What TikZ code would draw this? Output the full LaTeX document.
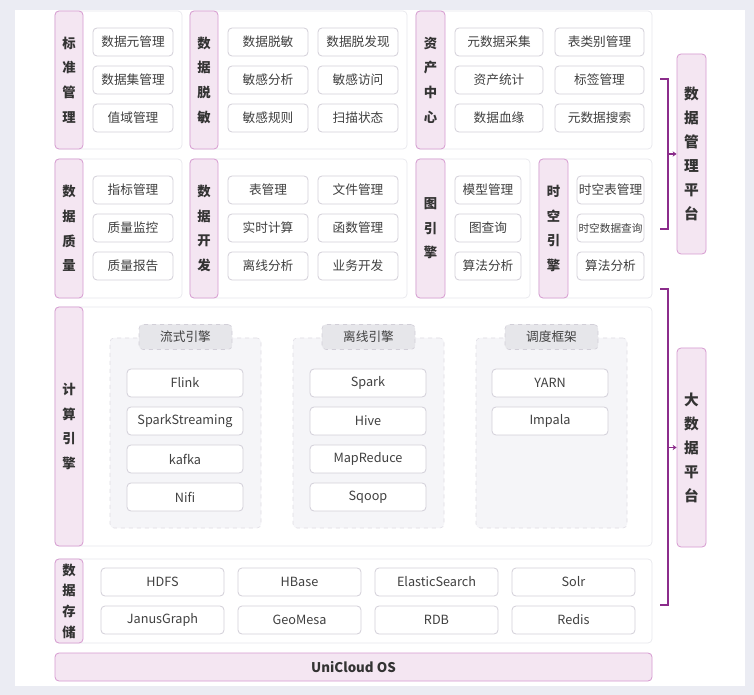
\documentclass[tikz,border=0pt]{standalone}
\usepackage{fontspec}
\setmainfont{Noto Sans CJK SC}
\usepackage{tikz}
\usetikzlibrary{arrows.meta}
\usepackage{xcolor}
\definecolor{bgcol}{HTML}{EBECF3}
\definecolor{pinkfill}{HTML}{F4E6F2}
\definecolor{pinkline}{HTML}{D69AD0}
\definecolor{boxline}{HTML}{D2CFD8}
\definecolor{cardline}{HTML}{E7E7EC}
\definecolor{groupfill}{HTML}{F5F5F8}
\definecolor{tagfill}{HTML}{E6E6EA}
\definecolor{brackcol}{HTML}{8B2C8B}
\def\u{0.75pt}
\tikzset{
  card/.style={draw=cardline, fill=white, rounded corners=3pt, line width=0.5pt},
  strip/.style={draw=pinkline, fill=pinkfill, rounded corners=3pt, line width=0.6pt,
    align=center, font=\fontsize{10}{18.5}\selectfont\bfseries, text=black!80},
  box/.style={draw=boxline, fill=white, rounded corners=3pt, line width=0.6pt,
    minimum height=28*\u, inner sep=0pt, font=\fontsize{9.5}{11}\selectfont, text=black!75},
  group/.style={draw=boxline!70, dashed, fill=groupfill, rounded corners=3pt, line width=0.4pt},
  tag/.style={draw=boxline, dashed, fill=tagfill, rounded corners=3pt, minimum width=93*\u,
    minimum height=25*\u, font=\fontsize{9.5}{11}\selectfont, text=black!75},
  bracket/.style={draw=brackcol, line width=1pt},
}
\begin{document}
\begin{tikzpicture}[x=0.75pt, y=-0.75pt]
    \useasboundingbox (0,0) rectangle (754,695);
    \fill[bgcol] (0,0) rectangle (754,695);
    \fill[white] (15,10) rectangle (745,686);

    % cards
    \node[card, minimum width=127*\u, minimum height=138*\u] (c1) at (118.5,80) {};
    \node[card, minimum width=217*\u, minimum height=138*\u] (c2) at (298.5,80) {};
    \node[card, minimum width=236*\u, minimum height=138*\u] (c3) at (534,80) {};
    \node[card, minimum width=127*\u, minimum height=139*\u] (c4) at (118.5,228.5) {};
    \node[card, minimum width=217*\u, minimum height=139*\u] (c5) at (298.5,228.5) {};
    \node[card, minimum width=114*\u, minimum height=139*\u] (c6) at (473,228.5) {};
    \node[card, minimum width=113*\u, minimum height=139*\u] (c7) at (595.5,228.5) {};
    \node[card, minimum width=597*\u, minimum height=239*\u] (c8) at (353.5,426.5) {};
    \node[card, minimum width=597*\u, minimum height=84*\u] (c9) at (353.5,601) {};

    % strips
    \node[strip, minimum width=28*\u, minimum height=138*\u] (s1) at (69,80) {标\\准\\管\\理};
    \node[strip, minimum width=28*\u, minimum height=138*\u] (s2) at (204,80) {数\\据\\脱\\敏};
    \node[strip, minimum width=29*\u, minimum height=138*\u] (s3) at (430.5,80) {资\\产\\中\\心};
    \node[strip, minimum width=28*\u, minimum height=139*\u] (s4) at (69,228.5) {数\\据\\质\\量};
    \node[strip, minimum width=28*\u, minimum height=139*\u] (s5) at (204,228.5) {数\\据\\开\\发};
    \node[strip, minimum width=29*\u, minimum height=139*\u] (s6) at (430.5,228.5) {图\\引\\擎};
    \node[strip, minimum width=29*\u, minimum height=139*\u] (s7) at (553.5,228.5) {时\\空\\引\\擎};
    \node[strip, minimum width=28*\u, minimum height=239*\u] (s8) at (69,426.5) {计\\算\\引\\擎};
    \node[strip, minimum width=28*\u, minimum height=84*\u, font=\fontsize{10}{15.5}\selectfont\bfseries] (s9) at (69,601) {数\\据\\存\\储};
    \node[strip, minimum width=597*\u, minimum height=28*\u, font=\fontsize{10}{12}\selectfont\bfseries] (os) at (353.5,667) {UniCloud OS};

    % row 1
    \foreach \t [count=\i] in {数据元管理,数据集管理,值域管理}
        \node[box, minimum width=80*\u] (bz\i) at (133,{4+38*\i}) {\t};
    \foreach \t [count=\i] in {数据脱敏,敏感分析,敏感规则}
        \node[box, minimum width=80*\u] (ta\i) at (268,{4+38*\i}) {\t};
    \foreach \t [count=\i] in {数据脱发现,敏感访问,扫描状态}
        \node[box, minimum width=80*\u] (tb\i) at (358,{4+38*\i}) {\t};
    \foreach \t [count=\i] in {元数据采集,资产统计,数据血缘}
        \node[box, minimum width=88*\u] (za\i) at (499,{4+38*\i}) {\t};
    \foreach \t [count=\i] in {表类别管理,标签管理,元数据搜索}
        \node[box, minimum width=89*\u] (zb\i) at (599.5,{4+38*\i}) {\t};

    % row 2
    \foreach \t [count=\i] in {指标管理,质量监控,质量报告}
        \node[box, minimum width=80*\u] (zl\i) at (133,{152+38*\i}) {\t};
    \foreach \t [count=\i] in {表管理,实时计算,离线分析}
        \node[box, minimum width=80*\u] (ka\i) at (268,{152+38*\i}) {\t};
    \foreach \t [count=\i] in {文件管理,函数管理,业务开发}
        \node[box, minimum width=80*\u] (kb\i) at (358,{152+38*\i}) {\t};
    \foreach \t [count=\i] in {模型管理,图查询,算法分析}
        \node[box, minimum width=66*\u] (ty\i) at (488,{152+38*\i}) {\t};
    \foreach \t [count=\i] in {时空表管理,\fontsize{8}{10}\selectfont 时空数据查询,算法分析}
        \node[box, minimum width=67*\u] (sk\i) at (610.5,{152+38*\i}) {\t};

    % compute engines
    \foreach \t [count=\i] in {流式引擎,离线引擎,调度框架} {
        \node[group, minimum width=151*\u, minimum height=190*\u] (g\i) at ({2.5+183*\i},433) {};
        \node[tag] (h\i) at ({2.5+183*\i},337) {\t};
    }
    \foreach \t [count=\i] in {Flink,SparkStreaming,kafka,Nifi}
        \node[box, minimum width=116*\u] (la\i) at (185,{345+38*\i}) {\t};
    \foreach \t [count=\i] in {Spark,Hive,MapReduce,Sqoop}
        \node[box, minimum width=116*\u] (lb\i) at (368,{345+38*\i}) {\t};
    \foreach \t [count=\i] in {YARN,Impala}
        \node[box, minimum width=116*\u] (lc\i) at (550,{345+38*\i}) {\t};

    % storage
    \foreach \t [count=\i] in {HDFS,HBase,ElasticSearch,Solr}
        \node[box, minimum width=123*\u] (da\i) at ({25.5+137*\i},582) {\t};
    \foreach \t [count=\i] in {JanusGraph,GeoMesa,RDB,Redis}
        \node[box, minimum width=123*\u] (db\i) at ({25.5+137*\i},620) {\t};

    % platforms
    \node[strip, minimum width=29*\u, minimum height=200*\u, font=\fontsize{11}{18}\selectfont\bfseries] (pm) at (691.5,154) {数\\据\\管\\理\\平\\台};
    \node[strip, minimum width=29*\u, minimum height=199*\u, font=\fontsize{11}{18}\selectfont\bfseries] (pb) at (691.5,447.5) {大\\数\\据\\平\\台};

    \coordinate (m1) at (668,154);
    \coordinate (m2) at (668,447.5);
    \draw[bracket] (660,79) -- (668,79) -- (668,229) -- (660,229);
    \draw[bracket] (660,289) -- (668,289) -- (668,605) -- (660,605);
    \draw[bracket, -{Stealth[length=3pt,width=4pt]}] (m1) -- (pm.west);
    \draw[bracket, -{Stealth[length=3pt,width=4pt]}] (m2) -- (pb.west);
\end{tikzpicture}
\end{document}
